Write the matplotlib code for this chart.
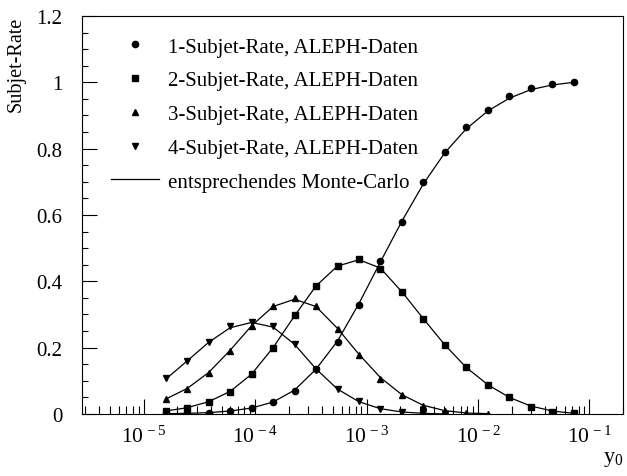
import numpy as np
import matplotlib
matplotlib.use("Agg")
import matplotlib.pyplot as plt
from matplotlib.ticker import FixedLocator, FuncFormatter, MultipleLocator

plt.rcParams['font.family'] = ['Liberation Serif', 'DejaVu Serif']
plt.rcParams['mathtext.fontset'] = 'custom'
plt.rcParams['mathtext.rm'] = 'Liberation Serif'
plt.rcParams['mathtext.it'] = 'Liberation Serif:italic'

# y0 Werte der Messpunkte
y0 = [1.58e-5, 2.46e-5, 3.83e-5, 5.97e-5, 9.30e-5, 1.45e-4, 2.26e-4, 3.52e-4,
      5.49e-4, 8.55e-4, 1.33e-3, 2.08e-3, 3.24e-3, 5.05e-3, 7.86e-3, 1.23e-2,
      1.91e-2, 2.98e-2, 4.64e-2, 7.23e-2]

# ALEPH-Daten
rate1 = [0.001, 0.002, 0.004, 0.008, 0.018, 0.036, 0.070, 0.135, 0.217, 0.330,
         0.460, 0.580, 0.698, 0.790, 0.864, 0.916, 0.958, 0.982, 0.995, 1.000]
rate2 = [0.009, 0.018, 0.036, 0.066, 0.120, 0.200, 0.298, 0.385, 0.446, 0.467,
         0.437, 0.367, 0.286, 0.208, 0.142, 0.087, 0.051, 0.021, 0.006, 0.002]
rate3 = [0.045, 0.075, 0.123, 0.190, 0.265, 0.325, 0.350, 0.325, 0.256, 0.178,
         0.107, 0.057, 0.024, 0.008, 0.003, 0.001]
rate4 = [0.108, 0.160, 0.217, 0.265, 0.278, 0.265, 0.210, 0.134, 0.075, 0.038,
         0.016, 0.007, 0.003, 0.001]

# entsprechendes Monte-Carlo
mc1 = [0.001, 0.002, 0.004, 0.009, 0.018, 0.036, 0.072, 0.135, 0.220, 0.333,
       0.458, 0.582, 0.694, 0.788, 0.860, 0.914, 0.952, 0.978, 0.992, 1.000]
mc2 = [0.009, 0.019, 0.037, 0.068, 0.120, 0.200, 0.296, 0.386, 0.446, 0.465,
       0.440, 0.368, 0.287, 0.208, 0.140, 0.088, 0.050, 0.024, 0.009, 0.002]
mc3 = [0.045, 0.077, 0.125, 0.192, 0.266, 0.324, 0.346, 0.324, 0.258, 0.180,
       0.110, 0.058, 0.026, 0.010, 0.003, 0.001]
mc4 = [0.105, 0.160, 0.216, 0.260, 0.276, 0.262, 0.210, 0.136, 0.075, 0.037,
       0.016, 0.006, 0.002, 0.000]

labels = ["1-Subjet-Rate, ALEPH-Daten", "2-Subjet-Rate, ALEPH-Daten",
          "3-Subjet-Rate, ALEPH-Daten", "4-Subjet-Rate, ALEPH-Daten",
          "entsprechendes Monte-Carlo"]

fig = plt.figure(figsize=(6.27, 4.77), dpi=100)
ax = fig.add_axes([0.1308, 0.13, 0.8628, 0.8344])

rates = [rate1, rate2, rate3, rate4]
mcs = [mc1, mc2, mc3, mc4]
markers = ["o", "s", "^", "v"]
handles = []
for r, m, mk, lab in zip(rates, mcs, markers, labels[:4]):
    ax.plot(y0[:len(m)], m, color="black", lw=0.9)
    h, = ax.plot(y0[:len(r)], r, ls="none", marker=mk, ms=4.5,
                 color="black", label=lab)
    handles.append(h)
hl, = ax.plot([], [], color="black", lw=0.9, label=labels[4])
handles.append(hl)

ax.set_xscale("log")
ax.set_xlim(2.8e-6, 0.2)
ax.set_ylim(0, 1.2)

ax.xaxis.set_major_locator(FixedLocator([1e-5, 1e-4, 1e-3, 1e-2, 1e-1]))
ax.xaxis.set_major_formatter(FuncFormatter(
    lambda v, p: r"$\mathregular{10^{\/%d}}$" % int(round(np.log10(v)))))
minors = [k * 10.0 ** e for e in range(-6, 0) for k in range(2, 10)]
ax.xaxis.set_minor_locator(FixedLocator(minors))
ax.xaxis.set_minor_formatter(FuncFormatter(lambda v, p: ""))

ax.yaxis.set_major_locator(MultipleLocator(0.2))
ax.yaxis.set_minor_locator(MultipleLocator(0.05))
ax.yaxis.set_major_formatter(FuncFormatter(lambda v, p: "%g" % round(v, 2)))

ax.tick_params(which="both", direction="in", top=False, right=False)
ax.tick_params(axis="x", which="major", length=11, width=0.8, pad=8, labelsize=15.5)
ax.tick_params(axis="x", which="minor", length=6, width=0.8)
ax.tick_params(axis="y", which="major", length=11, width=0.8, pad=14, labelsize=15)
ax.tick_params(axis="y", which="minor", length=4.5, width=0.8)

ax.set_ylabel("Subjet-Rate", loc="top", fontsize=14.5, labelpad=8)
ax.set_xlabel(r"$\mathregular{y_0}$", loc="right", fontsize=16, labelpad=2)

ax.legend(handles=handles, loc="upper left", frameon=False, fontsize=15,
          handlelength=2.3, handletextpad=0.45, labelspacing=0.68,
          bbox_to_anchor=(0.038, 0.968), borderaxespad=0)

fig.savefig("out.png", dpi=100)
